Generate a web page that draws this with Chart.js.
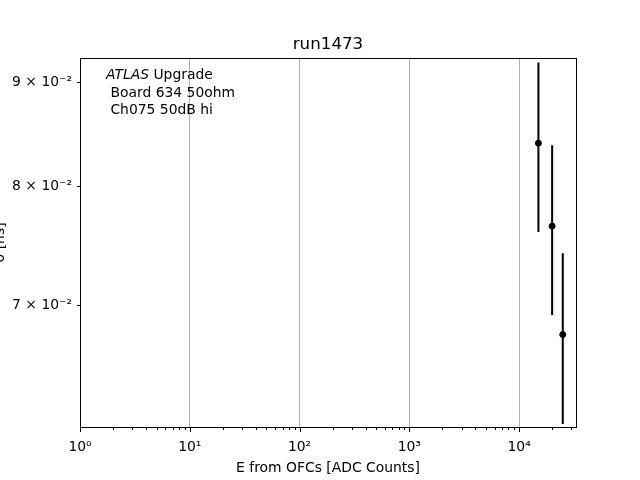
<!DOCTYPE html>
<html>
<head>
<meta charset="utf-8">
<script src="https://cdn.jsdelivr.net/npm/chart.js@4"></script>
<style>
  html, body { margin: 0; padding: 0; background: #fff; }
  #wrap { width: 640px; height: 480px; }
</style>
</head>
<body>
<div id="wrap"><canvas id="resChart" width="640" height="480"></canvas></div>
<script>
// --- datos ---
const energies = [15000, 20000, 25000];
const sigmas = [0.0840, 0.0765, 0.0677];
const sigmaErrs = [0.0080, 0.0073, 0.0065];
const xMajorTicks = [1, 10, 100, 1000, 10000];
const yTicks = [0.07, 0.08, 0.09];
const yTickLabels = ['7 \u00d7 10\u207b\u00b2', '8 \u00d7 10\u207b\u00b2', '9 \u00d7 10\u207b\u00b2'];
const supers = ['\u2070', '\u00b9', '\u00b2', '\u00b3', '\u2074'];

const chartTitle = 'run1473';
const xTitle = 'E from OFCs [ADC Counts]';
const yTitle = '\u03c3 [ns]';
const infoLines = [' Board 634 50ohm', ' Ch075 50dB hi'];

const FONT = '"DejaVu Sans", sans-serif';
const X_MIN = 1, X_MAX = 33000;
const Y_MIN = 0.06111, Y_MAX = 0.09246;

const isMajor = v => Math.abs(Math.log10(v) - Math.round(Math.log10(v))) < 1e-9;

// minor ticks 1..9 per decada
function buildXTicks() {
    const t = [];
    for (let d = 0; d <= 4; d++) {
        for (let m = 1; m <= 9; m++) {
            const v = m * Math.pow(10, d);
            if (v <= X_MAX) t.push({ value: v });
        }
    }
    return t;
}

const errorBarPlugin = {
    id: 'errorBars',
    beforeDatasetsDraw(chart) {
        const ctx = chart.ctx;
        const xs = chart.scales.x, ys = chart.scales.y;
        ctx.save();
        ctx.strokeStyle = '#000';
        ctx.lineWidth = 2;
        energies.forEach((e, i) => {
            const px = xs.getPixelForValue(e);
            ctx.beginPath();
            ctx.moveTo(px, ys.getPixelForValue(sigmas[i] + sigmaErrs[i]));
            ctx.lineTo(px, ys.getPixelForValue(sigmas[i] - sigmaErrs[i]));
            ctx.stroke();
        });
        ctx.restore();
    }
};

const decoPlugin = {
    id: 'deco',
    afterDraw(chart) {
        const ctx = chart.ctx;
        const a = chart.chartArea;
        const xs = chart.scales.x, ys = chart.scales.y;
        ctx.save();
        // caja
        ctx.strokeStyle = '#000';
        ctx.lineWidth = 1;
        ctx.strokeRect(Math.round(a.left) + 0.5, Math.round(a.top) + 0.5,
            Math.round(a.right - a.left), Math.round(a.bottom - a.top));
        // ticks eje x
        ctx.beginPath();
        xs.ticks.forEach(t => {
            const px = Math.round(xs.getPixelForValue(t.value)) + 0.5;
            const len = isMajor(t.value) ? 5 : 3;
            ctx.moveTo(px, a.bottom);
            ctx.lineTo(px, a.bottom + len);
        });
        ys.ticks.forEach(t => {
            const py = Math.round(ys.getPixelForValue(t.value)) + 0.5;
            ctx.moveTo(a.left, py);
            ctx.lineTo(a.left - 3, py);
        });
        ctx.stroke();

        ctx.fillStyle = '#000';
        // titulo
        ctx.font = '16.7px ' + FONT;
        ctx.textAlign = 'center';
        ctx.textBaseline = 'alphabetic';
        ctx.fillText(chartTitle, (a.left + a.right) / 2, 49);
        // titulo eje x
        ctx.font = '13.9px ' + FONT;
        ctx.fillText(xTitle, (a.left + a.right) / 2, 472);
        // titulo eje y (cortado en el borde)
        ctx.save();
        ctx.translate(4, (a.top + a.bottom) / 2);
        ctx.rotate(-Math.PI / 2);
        ctx.fillText(yTitle, 0, 0);
        ctx.restore();
        // texto ATLAS
        ctx.textAlign = 'left';
        ctx.font = 'italic 13.9px ' + FONT;
        ctx.fillText('ATLAS', 106, 79);
        const w = ctx.measureText('ATLAS').width;
        ctx.font = '13.9px ' + FONT;
        ctx.fillText(' Upgrade', 106 + w, 79);
        infoLines.forEach((s, i) => ctx.fillText(s, 106, 97 + i * 16.5));
        ctx.restore();
    }
};

new Chart(document.getElementById('resChart').getContext('2d'), {
    type: 'scatter',
    data: {
        datasets: [{
            data: energies.map((e, i) => ({ x: e, y: sigmas[i] })),
            backgroundColor: '#000',
            borderColor: '#000',
            pointRadius: 3,
            pointHoverRadius: 3
        }]
    },
    options: {
        responsive: false,
        animation: false,
        events: [],
        layout: { padding: { top: 58, right: 64, left: 0, bottom: 0 } },
        plugins: { legend: { display: false }, title: { display: false }, tooltip: { enabled: false } },
        scales: {
            x: {
                type: 'logarithmic',
                min: X_MIN,
                max: X_MAX,
                afterBuildTicks: s => { s.ticks = buildXTicks(); },
                afterFit: s => { s.height = 53; },
                border: { display: false },
                grid: {
                    drawTicks: false,
                    color: c => (c.tick && isMajor(c.tick.value)) ? '#b0b0b0' : 'rgba(0,0,0,0)',
                    lineWidth: 1
                },
                ticks: {
                    padding: 12,
                    maxRotation: 0,
                    autoSkip: false,
                    color: '#000',
                    font: { family: FONT, size: 13.9 },
                    callback: v => isMajor(v) ? '10' + supers[Math.round(Math.log10(v))] : ''
                }
            },
            y: {
                type: 'logarithmic',
                min: Y_MIN,
                max: Y_MAX,
                afterBuildTicks: s => { s.ticks = yTicks.map(v => ({ value: v })); },
                afterFit: s => { s.width = 80; },
                border: { display: false },
                grid: { display: false, drawTicks: false },
                ticks: {
                    padding: 8,
                    autoSkip: false,
                    color: '#000',
                    font: { family: FONT, size: 13.9 },
                    callback: (v, i) => yTickLabels[i]
                }
            }
        }
    },
    plugins: [errorBarPlugin, decoPlugin]
});
</script>
</body>
</html>
